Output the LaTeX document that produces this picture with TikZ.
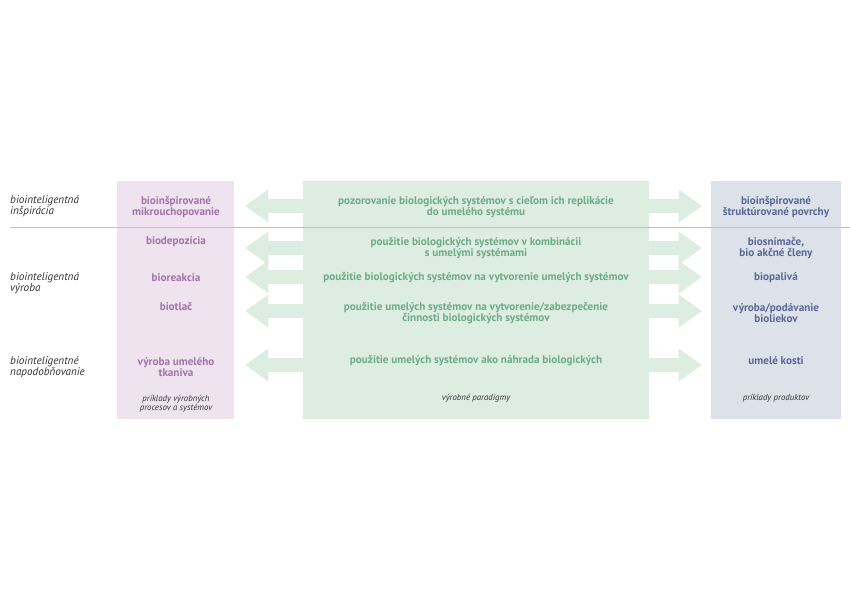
\documentclass[tikz,border=0pt]{standalone}
\usepackage{fontspec}
\setmainfont{PT Sans}
\usetikzlibrary{arrows.meta}
\definecolor{pbox}{HTML}{EFE3EF}
\definecolor{ptext}{HTML}{A273AA}
\definecolor{gbox}{HTML}{DDEDE2}
\definecolor{gtext}{HTML}{6DAB86}
\definecolor{bbox}{HTML}{DDE1EA}
\definecolor{btext}{HTML}{5B6897}
\definecolor{garrow}{HTML}{DDEDE2}
\begin{document}
\begin{tikzpicture}[x=0.03cm,y=-0.03cm,
  every node/.style={font=\fontsize{9.5}{10}\selectfont, inner sep=0pt},
  ptxt/.style={text=ptext, font=\fontsize{9.5}{10}\selectfont\bfseries, align=center},
  gtxt/.style={text=gtext, font=\fontsize{9.5}{10}\selectfont\bfseries, align=center},
  btxt/.style={text=btext, font=\fontsize{9.5}{10}\selectfont\bfseries, align=center},
  rowlabel/.style={anchor=west, align=left, text=black!80, font=\fontsize{9.5}{10}\selectfont\itshape},
  caption/.style={align=center, text=black!80, font=\fontsize{7.5}{8}\selectfont\itshape},
  bigarrow/.style={draw=garrow, line width=12.75pt, -{Triangle[length=20pt,width=27pt]}, shorten >=0pt}]
\useasboundingbox (0,0) rectangle (850,600);

% boxes
\fill[pbox] (117,181) rectangle (234,419);
\fill[gbox] (303,181) rectangle (649,419);
\fill[bbox] (711,181) rectangle (841,419);
\draw[black!25, line width=0.6pt] (10,227) -- (850,227);

% row labels
\node[rowlabel] (l1) at (10,206) {biointeligentná\\inšpirácia};
\node[rowlabel] (l2) at (10,283) {biointeligentná\\výroba};
\node[rowlabel] (l3) at (10,367) {biointeligentné\\napodobňovanie};

% processes
\node[ptxt] (p1) at (176,207) {bioinšpirované\\mikrouchopovanie};
\node[ptxt] (p2) at (176,242) {biodepozícia};
\node[ptxt] (p3) at (176,278) {bioreakcia};
\node[ptxt] (p4) at (176,307) {biotlač};
\node[ptxt] (p5) at (176,367) {výroba umelého\\tkaniva};
\node[caption] (pc) at (176,404) {príklady výrobných\\procesov a systémov};

% paradigms
\node[gtxt] (g1) at (476,207) {pozorovanie biologických systémov s cieľom ich replikácie\\do umelého systému};
\node[gtxt] (g2) at (476,248) {použitie biologických systémov v kombinácii\\s umelými systémami};
\node[gtxt] (g3) at (476,278) {použitie biologických systémov na vytvorenie umelých systémov};
\node[gtxt] (g4) at (476,313) {použitie umelých systémov na vytvorenie/zabezpečenie\\činnosti biologických systémov};
\node[gtxt] (g5) at (476,361) {použitie umelých systémov ako náhrada biologických};
\node[caption] (gc) at (476,398) {výrobné paradigmy};

% products
\node[btxt] (b1) at (776,207) {bioinšpirované\\štruktúrované povrchy};
\node[btxt] (b2) at (776,248) {biosnímače,\\bio akčné členy};
\node[btxt] (b3) at (776,278) {biopalivá};
\node[btxt] (b4) at (776,313) {výroba/podávanie\\bioliekov};
\node[btxt] (b5) at (776,361) {umelé kosti};
\node[caption] (bc) at (776,398) {príklady produktov};

% arrows
\foreach \n/\y in {1/206, 2/248, 3/277, 4/311, 5/365} {
  \coordinate (gl\n) at (303,\y);
  \coordinate (pl\n) at (245,\y);
  \coordinate (gr\n) at (649,\y);
  \coordinate (br\n) at (702,\y);
  \draw[bigarrow] (gl\n) -- (pl\n);
  \draw[bigarrow] (gr\n) -- (br\n);
}
\end{tikzpicture}
\end{document}
